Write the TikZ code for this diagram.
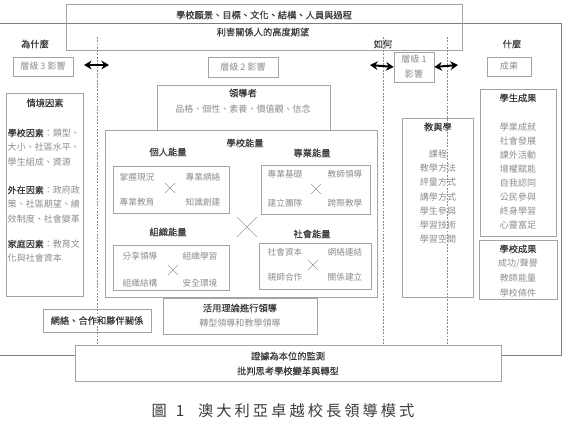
\documentclass[tikz,border=0pt]{standalone}
\usepackage{fontspec}
\setmainfont{Noto Sans CJK TC}
\newfontfamily\headfont[FakeBold=0.25]{Noto Sans CJK TC}
\newfontfamily\captionfont[LetterSpace=20]{Noto Sans CJK TC}
\usepackage{tikz}
\usetikzlibrary{
  arrows.meta,
  positioning
}
\usepackage{xcolor}
\definecolor{InkDark}{HTML}{3A3A3A}
\definecolor{InkGray}{HTML}{8C8C8C}
\definecolor{FrameGray}{HTML}{A4A4A4}
\definecolor{OuterGray}{HTML}{7E7E7E}
\definecolor{GuideGray}{HTML}{8A8A8A}
\definecolor{CrossGray}{HTML}{9A9A9A}
\newcommand{\keyterm}[1]{\textcolor{InkDark}{\headfont #1}}

\begin{document}
\begin{tikzpicture}[
  x=0.03cm, y=-0.03cm,
  frame/.style={draw=FrameGray, line width=0.6pt, inner sep=0pt},
  boxsize/.style 2 args={minimum width={#1*0.03cm}, minimum height={#2*0.03cm}},
  heading/.style={font=\headfont\fontsize{7.9}{9}\selectfont, text=InkDark, inner sep=0pt},
  entry/.style={font=\fontsize{7.7}{9}\selectfont, text=InkGray, inner sep=0pt},
  cell/.style={font=\fontsize{7.4}{9}\selectfont, text=InkGray, inner sep=0pt},
  guide/.style={draw=GuideGray, line width=0.5pt, dash pattern=on 1.6pt off 1.2pt},
  flow/.style={{Stealth[length=6.5pt,width=7.5pt]}-{Stealth[length=6.5pt,width=7.5pt]},
    line width=1.7pt, draw=black},
  crossline/.style={draw=CrossGray, line width=0.5pt}
]
\useasboundingbox (0,0) rectangle (563,429);

% Outer frame: stakeholder expectations.
\draw[OuterGray, line width=0.7pt] (0,23) -- (561,23) -- (561,355) -- (0,355);

% Vision band across the top.
\node[frame, boxsize={396}{46}] (vision) at (264,27) {};
\node[heading] (visiontext) at (264,15) {學校願景、目標、文化、結構、人員與過程};
\node[heading] (expecttext) at (263,32) {利害關係人的高度期望};

% Column questions and impact levels.
\node[heading] (why) at (35,44) {為什麼};
\node[heading] (how) at (383,44) {如何};
\node[heading] (what) at (512,44) {什麼};
\node[frame, boxsize={60}{19}] (lvlthree) at (43,66.5) {};
\node[entry] at (lvlthree.center) {層級 3 影響};
\node[frame, boxsize={70}{20}] (lvltwo) at (243,67) {};
\node[entry] at (lvltwo.center) {層級 2 影響};
\node[frame, boxsize={40}{30}] (lvlone) at (414,67) {};
\node[entry] (lvlonetop) at (414,59.5) {層級 1};
\node[entry] (lvlonebot) at (414,74) {影響};
\node[frame, boxsize={44}{19}] (outcome) at (509,66.5) {};
\node[entry] at (outcome.center) {成果};

% Context factors.
\node[frame, boxsize={77}{203}] (context) at (44.5,194.5) {};
\node[heading] (contexttitle) at (45,103) {情境因素};
\foreach \ly/\lt [count=\i] in {
  133/{\keyterm{學校因素}：類型、},
  147.5/{大小、社區水平、},
  162/{學生組成、資源},
  190/{\keyterm{外在因素}：政府政},
  204.5/{策、社區期望、績},
  219/{效制度、社會變革},
  244/{\keyterm{家庭因素}：教育文},
  258.5/{化與社會資本}}
  \node[entry, anchor=west] (ctx\i) at (7.5,\ly) {\lt};

% Leader.
\node[frame, boxsize={173}{45}] (leader) at (243.5,107.5) {};
\node[heading] (leadertitle) at (243,93) {領導者};
\node[entry] (leadertext) at (243,109) {品格、個性、素養、價值觀、信念};

% School capacity with its four parts.
\node[frame, boxsize={272}{167}] (capacity) at (241,213.5) {};
\node[heading] (capacitytitle) at (245,143) {學校能量};
\node[heading] (personaltitle) at (168,152) {個人能量};
\node[heading] (professtitle) at (312,153) {專業能量};
\node[heading] (organtitle) at (168,232) {組織能量};
\node[heading] (socialtitle) at (312,234) {社會能量};
\node[frame, boxsize={116}{47}] (personal) at (171,189.5) {};
\node[frame, boxsize={109}{49}] (profess) at (315.5,189.5) {};
\node[frame, boxsize={116}{45}] (organ) at (171,267.5) {};
\node[frame, boxsize={112}{46}] (social) at (315,266) {};
\foreach \cx/\cy/\lt [count=\i] in {
  137/177/掌握現況, 203/177/專業網絡, 137/202/專業教育, 203/202/知識創建,
  285/174/專業基礎, 345/174/教師領導, 285/203/建立團隊, 345/203/跨際教學,
  140/256/分享領導, 200/256/組織學習, 140/283/組織結構, 200/283/安全環境,
  285/252/社會資本, 345/252/網絡連結, 285/277/親師合作, 345/277/關係建立}
  \node[cell] (cap\i) at (\cx,\cy) {\lt};
\foreach \cx/\cy/\r in {170/188/5, 173/270/5, 316/189/5, 313/265/5, 247/227/10}
  \draw[crossline] (\cx-\r,\cy-\r) -- (\cx+\r,\cy+\r)
    (\cx-\r,\cy+\r) -- (\cx+\r,\cy-\r);

% Teaching and learning.
\node[frame, boxsize={71}{179}] (teach) at (437.5,207.5) {};
\node[heading] (teachtitle) at (438,127) {教與學};
\foreach \lt [count=\i] in {課程,教學方法,評量方式,講學方式,學生參與,學習技術,學習空間}
  \node[entry] (teach\i) at (438,{154+14.2*(\i-1)}) {\lt};

% Student and school outcomes.
\node[frame, boxsize={76}{147}] (student) at (518,162.5) {};
\node[heading] (studenttitle) at (518,98) {學生成果};
\foreach \lt [count=\i] in {學業成就,社會發展,課外活動,增權賦能,自我認同,公民參與,終身學習,心靈富足}
  \node[entry] (student\i) at (518,{127+14*(\i-1)}) {\lt};
\node[frame, boxsize={78}{59}] (school) at (518,269.5) {};
\node[heading] (schooltitle) at (518,249) {學校成果};
\foreach \lt [count=\i] in {{成功/聲譽},教師能量,學校條件}
  \node[entry] (school\i) at (518,{264+14.5*(\i-1)}) {\lt};

% Networks and leading with theory.
\node[frame, boxsize={108}{23}] (network) at (97,320.5) {};
\node[heading] at (network.center) {網絡、合作和夥伴關係};
\node[frame, boxsize={154}{36}] (theory) at (240,316) {};
\node[heading] (theorytitle) at (240,308) {活用理論進行領導};
\node[entry] (theorytext) at (240,323) {轉型領導和教學領導};

% Dotted column guides and impact arrows.
\coordinate (flowwest) at (84,65);
\coordinate (floweast) at (109,65);
\coordinate (flowhow) at (370,65);
\coordinate (flowwhat) at (458,65);
\foreach \gx in {97,383,447}
  \draw[guide] (\gx,37) -- (\gx,345);
\draw[flow] (flowwest) -- (floweast);
\draw[flow] (flowhow) -- (lvlone.west);
\draw[flow] (lvlone.east) -- (flowwhat);

% Evidence-based monitoring.
\node[frame, fill=white, boxsize={426}{36}] (monitor) at (288,363) {};
\node[heading] (monitortitle) at (288,356) {證據為本位的監測};
\node[heading] (monitortext) at (288,371) {批判思考學校變革與轉型};

% Caption.
\node[font=\captionfont\fontsize{13}{15}\selectfont, text=InkDark, inner sep=0pt]
  (caption) at (283,411) {圖\hspace{0.6em}1\hspace{0.9em}澳大利亞卓越校長領導模式};
\end{tikzpicture}
\end{document}
